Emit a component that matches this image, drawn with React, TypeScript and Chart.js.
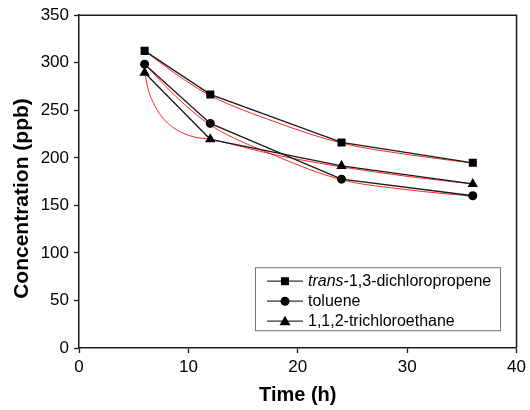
import { useEffect, useRef } from 'react';
import { Chart, registerables } from 'chart.js';

Chart.register(...registerables);

const timeH = [6, 12, 24, 36];
const dichloropropene = [312.5, 266.7, 216.2, 194.8];
const toluene = [298.5, 236.2, 177.6, 160.1];
const trichloroethane = [289.5, 219.5, 191.5, 172.5];

const fitTimeDcp = [6, 9, 12, 18, 24, 30, 36];
const fitDcp = [312.5, 287, 265.5, 237.5, 215.5, 203.5, 194.5];
const fitTimeTol = [6, 9, 12, 18, 24, 30, 36];
const fitTol = [298.5, 263, 234.5, 202, 177, 166.5, 159.5];
const fitTimeTce = [6, 6.3, 6.9, 7.8, 9, 10.5, 12, 18, 24, 30, 36];
const fitTce = [291, 273, 255.5, 240, 229, 222, 219.5, 203, 190.5, 180.5, 172.5];

const legendItems = [
  { italic: 'trans', rest: '-1,3-dichloropropene', marker: 'rect' },
  { italic: '', rest: 'toluene', marker: 'circle' },
  { italic: '', rest: '1,1,2-trichloroethane', marker: 'triangle' },
];

const xTitle = 'Time (h)';
const yTitle = 'Concentration (ppb)';

const FONT = '"Liberation Sans", Arial, sans-serif';
const INK = '#1a1a1a';

function pts(xs: number[], ys: number[]) {
  return xs.map((x, i) => ({ x, y: ys[i] }));
}

function drawMarker(ctx: CanvasRenderingContext2D, kind: string, x: number, y: number) {
  ctx.beginPath();
  if (kind === 'rect') {
    ctx.rect(x - 4, y - 4, 8, 8);
  } else if (kind === 'circle') {
    ctx.arc(x, y, 4.5, 0, Math.PI * 2);
  } else {
    ctx.moveTo(x, y - 5.5);
    ctx.lineTo(x + 5.5, y + 4);
    ctx.lineTo(x - 5.5, y + 4);
    ctx.closePath();
  }
  ctx.fill();
}

const overlay = {
  id: 'overlay',
  afterDraw(chart: any) {
    const ctx: CanvasRenderingContext2D = chart.ctx;
    const { left, right, top, bottom } = chart.chartArea;
    ctx.save();
    ctx.strokeStyle = INK;
    ctx.lineWidth = 1.5;
    ctx.beginPath();
    ctx.moveTo(left, top);
    ctx.lineTo(right, top);
    ctx.lineTo(right, bottom);
    ctx.stroke();

    ctx.save();
    ctx.translate(22, 198.5);
    ctx.rotate(-Math.PI / 2);
    ctx.font = `bold 21px ${FONT}`;
    ctx.textAlign = 'center';
    ctx.textBaseline = 'middle';
    ctx.fillStyle = '#000';
    ctx.fillText(yTitle, 0, 0);
    ctx.restore();

    const bx = left + 176;
    const by = top + 252;
    const bw = 245;
    const bh = 63;
    ctx.strokeStyle = '#777';
    ctx.lineWidth = 1;
    ctx.strokeRect(bx + 0.5, by + 0.5, bw, bh);
    legendItems.forEach((it, i) => {
      const y = by + 14 + i * 20;
      ctx.strokeStyle = '#333';
      ctx.lineWidth = 1.2;
      ctx.beginPath();
      ctx.moveTo(bx + 12, y);
      ctx.lineTo(bx + 48, y);
      ctx.stroke();
      ctx.fillStyle = '#000';
      drawMarker(ctx, it.marker, bx + 30, y);
      ctx.textBaseline = 'middle';
      ctx.textAlign = 'left';
      let tx = bx + 53;
      if (it.italic) {
        ctx.font = `italic 16px ${FONT}`;
        ctx.fillText(it.italic, tx, y);
        tx += ctx.measureText(it.italic).width;
      }
      ctx.font = `16px ${FONT}`;
      ctx.fillText(it.rest, tx, y);
    });
    ctx.restore();
  },
};

export default function App() {
  const ref = useRef<HTMLCanvasElement>(null);

  useEffect(() => {
    if (!ref.current) return;
    const black = (data: number[], style: string) => ({
      data: pts(timeH, data),
      borderColor: INK,
      backgroundColor: '#000',
      borderWidth: 1.3,
      pointStyle: style,
      pointRadius: style === 'rect' ? 5.7 : style === 'circle' ? 4.5 : 6,
      pointBorderWidth: 0,
      pointBackgroundColor: '#000',
      tension: 0,
      order: 1,
    });
    const red = (xs: number[], ys: number[]) => ({
      data: pts(xs, ys),
      borderColor: 'rgba(255,0,0,0.85)',
      borderWidth: 1,
      pointRadius: 0,
      cubicInterpolationMode: 'monotone',
      order: 2,
    });
    const chart = new Chart(ref.current, {
      type: 'line',
      data: {
        datasets: [
          black(dichloropropene, 'rect'),
          black(toluene, 'circle'),
          black(trichloroethane, 'triangle'),
          red(fitTimeDcp, fitDcp),
          red(fitTimeTol, fitTol),
          red(fitTimeTce, fitTce),
        ] as any,
      },
      options: {
        animation: false,
        responsive: false,
        devicePixelRatio: 1,
        layout: { padding: { top: 15, right: 11, left: 0, bottom: 0 } },
        plugins: { legend: { display: false }, tooltip: { enabled: false } },
        scales: {
          x: {
            type: 'linear',
            min: 0,
            max: 40,
            ticks: { stepSize: 10, font: { family: FONT, size: 17 }, color: '#000', padding: 4, maxRotation: 0 },
            grid: { drawOnChartArea: false, tickLength: 5, tickColor: INK, tickWidth: 1.3 },
            border: { color: INK, width: 1.5 },
            title: { display: true, text: xTitle, font: { family: FONT, size: 20, weight: 'bold' }, color: '#000', padding: { top: 0, bottom: 3 } },
            afterFit: (s: any) => { s.height = 62; },
          },
          y: {
            type: 'linear',
            min: 0,
            max: 350,
            ticks: { stepSize: 50, font: { family: FONT, size: 17 }, color: '#000', padding: 5 },
            grid: { drawOnChartArea: false, tickLength: 5, tickColor: INK, tickWidth: 1.3 },
            border: { color: INK, width: 1.5 },
            afterFit: (s: any) => { s.width = 79; },
          },
        },
      },
      plugins: [overlay],
    });
    return () => chart.destroy();
  }, []);

  return (
    <div style={{ position: 'fixed', left: 0, top: 0, width: 530, height: 410, background: '#fff' }}>
      <canvas ref={ref} width={530} height={410} style={{ width: 530, height: 410, display: 'block' }} />
    </div>
  );
}
